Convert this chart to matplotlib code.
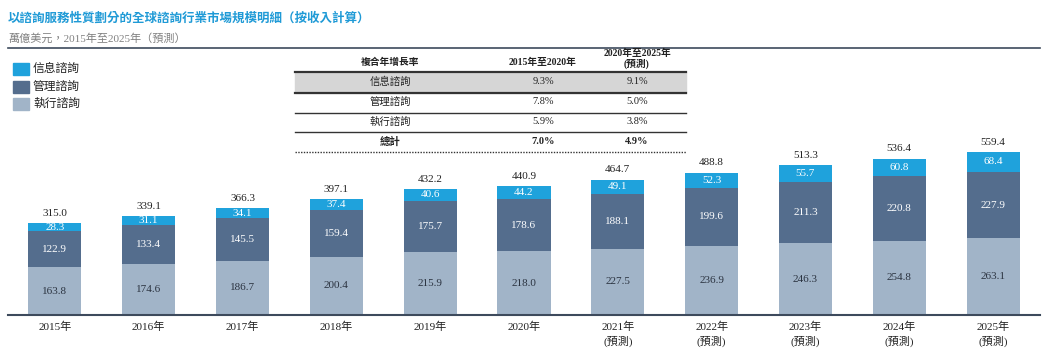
import matplotlib
matplotlib.use("Agg")
import matplotlib.pyplot as plt
from matplotlib.lines import Line2D
from matplotlib.patches import Rectangle

FONTS = ["Liberation Serif", "Noto Sans CJK TC", "DejaVu Sans"]
matplotlib.rcParams["font.family"] = FONTS

# data
years = ["2015年", "2016年", "2017年", "2018年", "2019年", "2020年",
         "2021年\n(預測)", "2022年\n(預測)", "2023年\n(預測)",
         "2024年\n(預測)", "2025年\n(預測)"]
execution = [163.8, 174.6, 186.7, 200.4, 215.9, 218.0, 227.5, 236.9, 246.3, 254.8, 263.1]
management = [122.9, 133.4, 145.5, 159.4, 175.7, 178.6, 188.1, 199.6, 211.3, 220.8, 227.9]
information = [28.3, 31.1, 34.1, 37.4, 40.6, 44.2, 49.1, 52.3, 55.7, 60.8, 68.4]
totals = [315.0, 339.1, 366.3, 397.1, 432.2, 440.9, 464.7, 488.8, 513.3, 536.4, 559.4]

series_names = ["信息諮詢", "管理諮詢", "執行諮詢"]
table_header = ["複合年增長率", "2015年至2020年", "2020年至2025年\n(預測)"]
table_rows = [
    ["信息諮詢", "9.3%", "9.1%"],
    ["管理諮詢", "7.8%", "5.0%"],
    ["執行諮詢", "5.9%", "3.8%"],
    ["總計", "7.0%", "4.9%"],
]

title = "以諮詢服務性質劃分的全球諮詢行業市場規模明細（按收入計算）"
subtitle = "萬億美元，2015年至2025年（預測）"

c_info = "#1fa2dc"
c_mgmt = "#546d8d"
c_exec = "#a1b4c8"
c_dark = "#3d4a5c"

W, H = 1048, 361
fig = plt.figure(figsize=(W / 100, H / 100), dpi=100)


def fx(px):
    return px / W


def fy(py):
    return 1 - py / H


# title block
fig.text(fx(8), fy(18), title, fontsize=9, fontweight="bold", color="#1f9ad6",
         va="center", ha="left")
fig.text(fx(8), fy(38), subtitle, fontsize=8, color="#808080", va="center", ha="left")
fig.add_artist(Line2D([fx(8), fx(1040)], [fy(48), fy(48)], color=c_dark, lw=1.2))

# legend
for i, (name, col) in enumerate(zip(series_names, [c_info, c_mgmt, c_exec])):
    yc = 69 + i * 17.5
    fig.add_artist(Rectangle((fx(13), fy(yc + 6)), fx(16), 12 / H, color=col,
                             transform=fig.transFigure))
    fig.text(fx(33), fy(yc), name, fontsize=8.5, va="center", ha="left", color="#222")

# table
tx0, tx1 = 295, 686
col_x = [390, 543, 637]
fig.add_artist(Rectangle((fx(tx0), fy(93)), fx(tx1 - tx0), 21 / H, color="#d6d6d6",
                         transform=fig.transFigure))
for j, txt in enumerate(table_header):
    yc = 62 if j < 2 else 59
    fig.text(fx(col_x[j]), fy(yc), txt, fontsize=7, fontweight="bold", va="center",
             ha="center", linespacing=1.0, color="#222")
row_y = [82, 102, 122, 142]
for r, row in enumerate(table_rows):
    bold = r == len(table_rows) - 1
    for j, txt in enumerate(row):
        fig.text(fx(col_x[j]), fy(row_y[r]), txt, fontsize=7.5,
                 fontweight="bold" if bold else "normal", va="center", ha="center",
                 color="#222")
for yl, lw in [(72, 1.6), (93, 1.6), (113, 1.0), (132, 1.0)]:
    fig.add_artist(Line2D([fx(tx0), fx(tx1)], [fy(yl), fy(yl)], color="#333", lw=lw))
fig.add_artist(Line2D([fx(tx0), fx(tx1)], [fy(152), fy(152)], color="#333", lw=1.0,
                      ls=(0, (1, 1))))

# bars
ax = fig.add_axes([fx(8), fy(315), fx(1040 - 8), (315 - 150) / H])
x = list(range(len(years)))
bw = 0.565
ax.bar(x, execution, bw, color=c_exec)
ax.bar(x, management, bw, bottom=execution, color=c_mgmt)
bottom2 = [a + b for a, b in zip(execution, management)]
ax.bar(x, information, bw, bottom=bottom2, color=c_info)

for i in x:
    ax.text(i, execution[i] / 2, f"{execution[i]:.1f}", ha="center", va="center",
            fontsize=8, color="#2b3340")
    ax.text(i, execution[i] + management[i] / 2, f"{management[i]:.1f}", ha="center",
            va="center", fontsize=8, color="white")
    ax.text(i, bottom2[i] + information[i] / 2, f"{information[i]:.1f}", ha="center",
            va="center", fontsize=8, color="white")
    ax.annotate(f"{totals[i]:.1f}", (i, bottom2[i] + information[i]),
                xytext=(0, 7), textcoords="offset points", ha="center", va="center",
                fontsize=8, color="#222",
                bbox=dict(facecolor="white", edgecolor="none", pad=0.6))

ax.set_xlim(-0.5, len(years) - 0.5)
ax.set_ylim(0, 566)
ax.set_xticks(x)
ax.set_xticklabels(years, fontsize=8, linespacing=1.35, color="#222")
ax.tick_params(axis="x", length=0, pad=5)
ax.set_yticks([])
for s in ["top", "right", "left"]:
    ax.spines[s].set_visible(False)
ax.spines["bottom"].set_color(c_dark)
ax.spines["bottom"].set_linewidth(1.5)

fig.savefig("out.png", dpi=100)
